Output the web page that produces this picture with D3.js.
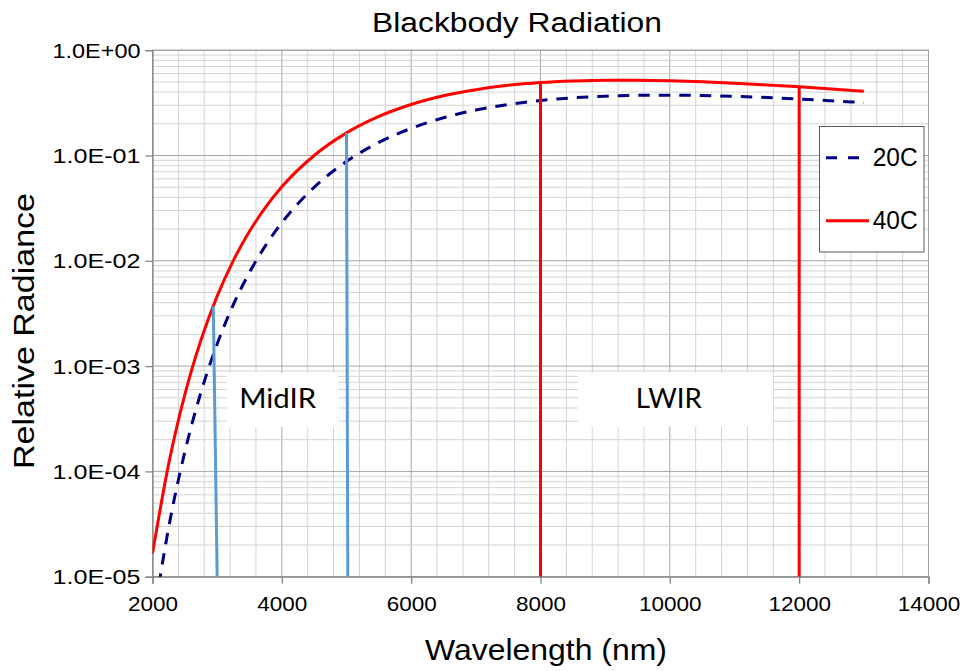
<!DOCTYPE html>
<html>
<head>
<meta charset="utf-8">
<script src="https://cdn.jsdelivr.net/npm/d3@7"></script>
<style>
  html, body { margin: 0; padding: 0; background: #fff; }
  svg { display: block; }
  text { font-family: "Liberation Sans", Arial, sans-serif; fill: #000; }
</style>
</head>
<body>
<div id="chart"></div>
<script>
// ---------------- DATA ----------------
const wavelengths = [2000, 2250, 2500, 2750, 3000, 3250, 3500, 3750, 4000, 4500, 5000, 5500, 6000, 6500,
  7000, 7500, 8000, 8500, 9000, 9500, 10000, 10500, 11000, 11500, 12000, 12500, 13000];
const radiance20C = [3.45e-6, 2.93e-5, 1.53e-4, 5.66e-4, 1.62e-3, 3.83e-3, 7.77e-3, 1.40e-2, 2.30e-2, 4.99e-2,
  0.0877, 0.133, 0.181, 0.228, 0.270, 0.305, 0.333, 0.353, 0.366, 0.3725, 0.374, 0.371, 0.364, 0.355, 0.344, 0.331, 0.3175];
const radiance40C = [1.66e-5, 1.18e-4, 5.37e-4, 1.77e-3, 4.62e-3, 1.005e-2, 1.905e-2, 3.23e-2, 5.04e-2, 0.100,
  0.164, 0.235, 0.305, 0.369, 0.422, 0.464, 0.493, 0.510, 0.519, 0.519, 0.513, 0.5015, 0.486, 0.468, 0.449, 0.428, 0.407];
const seriesNames = ["20C", "40C"];

const xTickValues = [2000, 4000, 6000, 8000, 10000, 12000, 14000];
const yTickValues = [1e-5, 1e-4, 1e-3, 1e-2, 1e-1, 1];
const yTickLabels = ["1.0E-05", "1.0E-04", "1.0E-03", "1.0E-02", "1.0E-01", "1.0E+00"];

// band boundary lines (wavelength, radiance)
const midIRLeft  = [[2940, 0.0037], [3000, 1e-5]];
const midIRRight = [[5000, 0.164], [5020, 1e-5]];
const lwirLeft   = [[8000, 0.493], [8000, 1e-5]];
const lwirRight  = [[12000, 0.447], [12000, 1e-5]];
const bandLabels = ["MidIR", "LWIR"];

const titleText = "Blackbody Radiation";
const xTitle = "Wavelength (nm)";
const yTitle = "Relative Radiance";

// ---------------- LAYOUT ----------------
const W = 964, H = 671;
const L = 152.5, R = 928.5, T = 50.2, B = 576.7;

const svg = d3.select("#chart").append("svg").attr("width", W).attr("height", H);

const x = d3.scaleLinear().domain([2000, 14000]).range([L, R]);
const y = d3.scaleLog().domain([1e-5, 1]).range([B, T]);

svg.append("defs").append("clipPath").attr("id", "plotclip")
  .append("rect").attr("x", L).attr("y", T).attr("width", R - L).attr("height", B - T);

// ---------------- GRID ----------------
const grid = svg.append("g");
const vLines = d3.range(2000, 14001, 400);
grid.selectAll("line.v").data(vLines).enter().append("line")
  .attr("x1", d => x(d)).attr("x2", d => x(d)).attr("y1", T).attr("y2", B)
  .attr("stroke", d => (d % 2000 === 0) ? "#a6a6a6" : "#d3d3d3").attr("stroke-width", 1);
const hMinor = [];
for (let e = -5; e < 0; e++) for (let k = 2; k <= 9; k++) hMinor.push(k * Math.pow(10, e));
grid.selectAll("line.hm").data(hMinor).enter().append("line")
  .attr("x1", L).attr("x2", R).attr("y1", d => y(d)).attr("y2", d => y(d))
  .attr("stroke", "#d3d3d3").attr("stroke-width", 1);
grid.selectAll("line.hM").data(yTickValues).enter().append("line")
  .attr("x1", L).attr("x2", R).attr("y1", d => y(d)).attr("y2", d => y(d))
  .attr("stroke", "#a6a6a6").attr("stroke-width", 1);

svg.append("rect").attr("x", L).attr("y", T).attr("width", R - L).attr("height", B - T)
  .attr("fill", "none").attr("stroke", "#a0a0a0").attr("stroke-width", 1);

// ---------------- AXES ----------------
const yAxis = d3.axisLeft(y).tickValues(yTickValues).tickFormat((d, i) => yTickLabels[i]).tickSize(7).tickPadding(5);
const gy = svg.append("g").attr("transform", `translate(${L},0)`).call(yAxis);
gy.select(".domain").attr("stroke", "#868686").attr("stroke-width", 1.3);
gy.selectAll(".tick line").attr("stroke", "#868686").attr("stroke-width", 1.3);
gy.selectAll(".tick text").style("font-family", "Liberation Sans, Arial, sans-serif")
  .style("font-size", "20px").attr("fill", "#000").attr("textLength", 88).attr("lengthAdjust", "spacingAndGlyphs")
  .attr("dy", "0.35em");

const xAxis = d3.axisBottom(x).tickValues(xTickValues).tickFormat(d3.format("d")).tickSize(7).tickPadding(12);
const gx = svg.append("g").attr("transform", `translate(0,${B})`).call(xAxis);
gx.select(".domain").attr("stroke", "#868686").attr("stroke-width", 1.3);
gx.selectAll(".tick line").attr("stroke", "#868686").attr("stroke-width", 1.3);
gx.selectAll(".tick text").style("font-family", "Liberation Sans, Arial, sans-serif")
  .style("font-size", "21px").attr("fill", "#000").attr("dy", "0.71em")
  .attr("textLength", d => String(d).length * 12.5).attr("lengthAdjust", "spacingAndGlyphs");

// ---------------- LABEL BOXES ----------------
const boxG = svg.append("g");
boxG.append("rect").attr("x", 226.7).attr("y", 373).attr("width", 111.3).attr("height", 54).attr("fill", "#fff");
boxG.append("rect").attr("x", 578).attr("y", 372.7).attr("width", 195).attr("height", 54).attr("fill", "#fff");
boxG.append("text").attr("x", 277.7).attr("y", 408.3).attr("text-anchor", "middle")
  .style("font-family", "Lato, 'Open Sans', sans-serif").style("font-size", "27px")
  .attr("textLength", 77).attr("lengthAdjust", "spacingAndGlyphs").text(bandLabels[0]);
boxG.append("text").attr("x", 668.8).attr("y", 408.3).attr("text-anchor", "middle")
  .style("font-family", "Lato, 'Open Sans', sans-serif").style("font-size", "27px")
  .attr("textLength", 66).attr("lengthAdjust", "spacingAndGlyphs").text(bandLabels[1]);

// ---------------- SERIES ----------------
const plot = svg.append("g").attr("clip-path", "url(#plotclip)");
const curve = d3.line().x(d => x(d[0])).y(d => y(d[1])).curve(d3.curveMonotoneX);
const line = d3.line().x(d => x(d[0])).y(d => y(d[1]));

const s20 = wavelengths.map((w, i) => [w, radiance20C[i]]);
const s40 = wavelengths.map((w, i) => [w, radiance40C[i]]);

plot.append("path").datum(s20).attr("d", curve).attr("fill", "none")
  .attr("stroke", "#000080").attr("stroke-width", 3).attr("stroke-dasharray", "11.5,9");
plot.append("path").datum(s40).attr("d", curve).attr("fill", "none")
  .attr("stroke", "#ff0000").attr("stroke-width", 3);

[midIRLeft, midIRRight].forEach(seg => {
  plot.append("path").datum(seg).attr("d", line).attr("fill", "none")
    .attr("stroke", "#5b9bd5").attr("stroke-width", 3);
});
[lwirLeft, lwirRight].forEach(seg => {
  plot.append("path").datum(seg).attr("d", line).attr("fill", "none")
    .attr("stroke", "#ff0000").attr("stroke-width", 3);
});

// ---------------- LEGEND ----------------
const lg = svg.append("g");
lg.append("rect").attr("x", 819.5).attr("y", 126.5).attr("width", 104.5).attr("height", 125.5)
  .attr("fill", "#fff").attr("stroke", "#595959").attr("stroke-width", 1);
lg.append("line").attr("x1", 826).attr("x2", 862).attr("y1", 157.7).attr("y2", 157.7)
  .attr("stroke", "#000080").attr("stroke-width", 3).attr("stroke-dasharray", "11,11");
lg.append("line").attr("x1", 826).attr("x2", 869).attr("y1", 220.7).attr("y2", 220.7)
  .attr("stroke", "#ff0000").attr("stroke-width", 3);
lg.append("text").attr("x", 872.7).attr("y", 166).style("font-size", "25px")
  .attr("textLength", 45).attr("lengthAdjust", "spacingAndGlyphs").text(seriesNames[0]);
lg.append("text").attr("x", 872.7).attr("y", 229.3).style("font-size", "25px")
  .attr("textLength", 45).attr("lengthAdjust", "spacingAndGlyphs").text(seriesNames[1]);

// ---------------- TITLES ----------------
svg.append("text").attr("x", 517).attr("y", 32).attr("text-anchor", "middle")
  .style("font-size", "27px").attr("textLength", 290).attr("lengthAdjust", "spacingAndGlyphs").text(titleText);
svg.append("text").attr("x", 546).attr("y", 660).attr("text-anchor", "middle")
  .style("font-size", "30px").attr("textLength", 242).attr("lengthAdjust", "spacingAndGlyphs").text(xTitle);
svg.append("text").attr("transform", "translate(34,331) rotate(-90)").attr("text-anchor", "middle")
  .style("font-size", "30px").attr("textLength", 276).attr("lengthAdjust", "spacingAndGlyphs").text(yTitle);
</script>
</body>
</html>
